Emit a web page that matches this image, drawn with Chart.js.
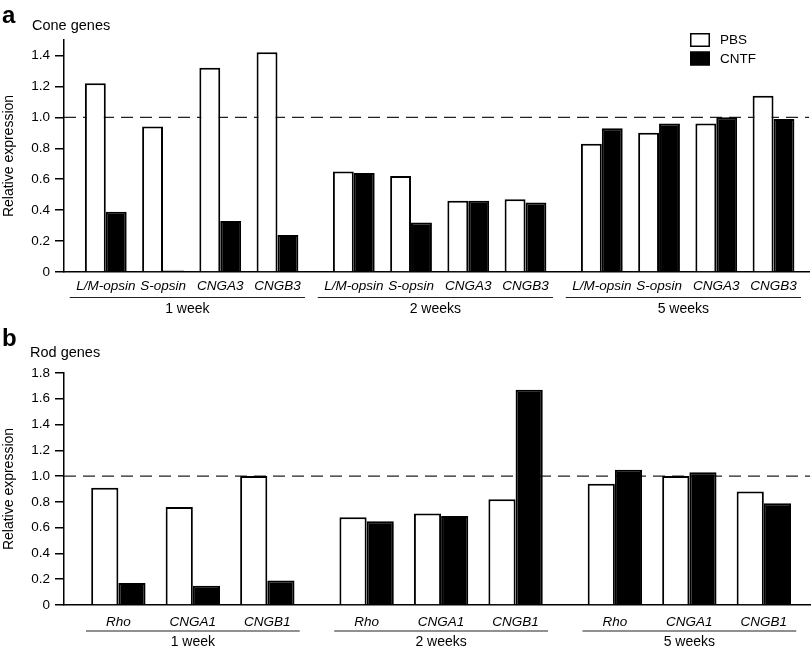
<!DOCTYPE html>
<html>
<head>
<meta charset="utf-8">
<script src="https://cdn.jsdelivr.net/npm/chart.js@4.4.1/dist/chart.umd.min.js"></script>
<style>
  body { margin: 0; background: #fff; font-family: "Liberation Sans", Arial, sans-serif; }
  #wrap { position: relative; width: 812px; height: 650px; }
  canvas { position: absolute; left: 0; }
  .letter { position: absolute; font-weight: bold; font-size: 24px; line-height: 24px; }
  .sub { position: absolute; font-size: 14.5px; line-height: 14px; }
</style>
</head>
<body>
<div id="wrap">
  <canvas id="coneChart" width="812" height="320" style="top:0"></canvas>
  <canvas id="rodChart" width="812" height="330" style="top:320px"></canvas>
  <div class="letter" style="left:2px;top:3px">a</div>
  <div class="sub" style="left:32px;top:18px">Cone genes</div>
  <div class="letter" style="left:2px;top:326px">b</div>
  <div class="sub" style="left:30px;top:345px">Rod genes</div>
</div>
<script>
const weeks = ["1 week", "2 weeks", "5 weeks"];
const seriesNames = ["PBS", "CNTF"];

// panel a - cone genes
const coneGenes = ["L/M-opsin", "S-opsin", "CNGA3", "CNGB3"];
const conePBS  = [1.22, 0.94, 1.32, 1.42,  0.65, 0.62, 0.46, 0.47,  0.83, 0.90, 0.96, 1.14];
const coneCNTF = [0.39, 0.01, 0.33, 0.24,  0.64, 0.32, 0.46, 0.45,  0.93, 0.96, 1.00, 0.99];
const coneTicks = [0, 0.2, 0.4, 0.6, 0.8, 1.0, 1.2, 1.4];

// panel b - rod genes
const rodGenes = ["Rho", "CNGA1", "CNGB1"];
const rodPBS  = [0.91, 0.76, 1.00,  0.68, 0.71, 0.82,  0.94, 1.00, 0.88];
const rodCNTF = [0.17, 0.15, 0.19,  0.65, 0.69, 1.67,  1.05, 1.03, 0.79];
const rodTicks = [0, 0.2, 0.4, 0.6, 0.8, 1.0, 1.2, 1.4, 1.6, 1.8];

const FONT = '"Liberation Sans", Arial, sans-serif';
Chart.defaults.font.family = FONT;
Chart.defaults.color = "#000";

const GROUP_GAP = 1 / 3;
const slot = (i, n) => i + Math.floor(i / n) * GROUP_GAP;

// dashed reference line at 1.0
const refLine = {
  id: "refLine",
  beforeDatasetsDraw(chart) {
    const { ctx, chartArea: a, scales: { y } } = chart;
    const py = y.getPixelForValue(1);
    ctx.save();
    ctx.strokeStyle = "#222";
    ctx.lineWidth = 1.3;
    ctx.setLineDash([12, 7]);
    ctx.beginPath();
    ctx.moveTo(a.left, py);
    ctx.lineTo(a.right, py);
    ctx.stroke();
    ctx.restore();
  }
};

// underlines and time point names below the gene labels
const groupLines = {
  id: "groupLines",
  afterDraw(chart, args, opts) {
    const { ctx, chartArea: a, scales: { x } } = chart;
    const n = opts.perGroup;
    const u = x.getPixelForValue(1) - x.getPixelForValue(0);
    ctx.save();
    ctx.strokeStyle = "#222";
    ctx.lineWidth = 1.2;
    ctx.fillStyle = "#000";
    ctx.font = "14px " + FONT;
    ctx.textAlign = "center";
    ctx.textBaseline = "middle";
    weeks.forEach((w, g) => {
      const x0 = x.getPixelForValue(slot(g * n, n)) - opts.ext[0] * u;
      const x1 = x.getPixelForValue(slot(g * n + n - 1, n)) + opts.ext[1] * u;
      const ly = a.bottom + opts.lineGap;
      ctx.beginPath();
      ctx.moveTo(x0, ly);
      ctx.lineTo(x1, ly);
      ctx.stroke();
      ctx.fillText(w, (x0 + x1) / 2, ly + 11.5);
    });
    ctx.restore();
  }
};

// small boxed legend inside panel a
const boxLegend = {
  id: "boxLegend",
  afterDraw(chart, args, opts) {
    if (!opts.show) return;
    const { ctx, chartArea: a } = chart;
    ctx.save();
    ctx.font = "13.5px " + FONT;
    ctx.textBaseline = "middle";
    chart.data.datasets.forEach((ds, i) => {
      const bx = a.right - 119, by = a.top - 7 + i * 18.5;
      ctx.fillStyle = ds.backgroundColor;
      ctx.fillRect(bx, by, 20, 14);
      ctx.strokeStyle = "#000";
      ctx.lineWidth = 1.5;
      ctx.strokeRect(bx + 0.75, by + 0.75, 18.5, 12.5);
      ctx.fillStyle = "#000";
      ctx.fillText(ds.label, bx + 30, by + 7.5);
    });
    ctx.restore();
  }
};

function makeChart(id, genes, pbs, cntf, yTicks, yMax, cfg) {
  const n = genes.length;
  const xs = pbs.map((v, i) => slot(i, n));
  const labels = pbs.map((v, i) => genes[i % n]);
  const last = xs[xs.length - 1];

  return new Chart(document.getElementById(id), {
    type: "bar",
    data: {
      datasets: [
        {
          label: seriesNames[0],
          data: pbs.map((v, i) => ({ x: xs[i], y: v })),
          backgroundColor: "#fff",
          borderColor: "#000",
          borderWidth: 2
        },
        {
          label: seriesNames[1],
          data: cntf.map((v, i) => ({ x: xs[i], y: v })),
          backgroundColor: "#000",
          borderColor: "#000",
          borderWidth: 2
        }
      ]
    },
    options: {
      responsive: false,
      animation: false,
      categoryPercentage: 0.73,
      barPercentage: 1.0,
      layout: { padding: cfg.padding },
      plugins: {
        legend: { display: false },
        tooltip: { enabled: false },
        groupLines: { perGroup: n, ext: cfg.ext, lineGap: cfg.lineGap },
        boxLegend: { show: cfg.legend }
      },
      scales: {
        x: {
          type: "linear",
          offset: false,
          min: -0.73,
          max: last + 0.62,
          afterBuildTicks: s => { s.ticks = xs.map(v => ({ value: v })); },
          afterFit: s => { s.height = cfg.xHeight; },
          grid: { display: false, drawTicks: false },
          border: { display: true, color: "#000", width: 1.5 },
          ticks: {
            autoSkip: false,
            maxRotation: 0,
            padding: cfg.labelPad,
            font: { size: 13.5, style: "italic" },
            callback: (v, i) => labels[i]
          }
        },
        y: {
          min: 0,
          max: yMax,
          afterBuildTicks: s => { s.ticks = yTicks.map(v => ({ value: v })); },
          afterFit: s => { s.width = 64; },
          grid: { drawOnChartArea: false, drawTicks: true, tickLength: 9, color: "#000", lineWidth: 1.5 },
          border: { display: true, color: "#000", width: 1.5 },
          ticks: {
            padding: 5,
            font: { size: 13.5 },
            callback: v => (v === 0 ? "0" : v.toFixed(1))
          },
          title: {
            display: true,
            text: "Relative expression",
            font: { size: 14 },
            padding: { top: 1, bottom: 0 }
          }
        }
      }
    },
    plugins: [refLine, groupLines, boxLegend]
  });
}

makeChart("coneChart", coneGenes, conePBS, coneCNTF, coneTicks, 1.5, {
  padding: { top: 40, right: 3, left: 0, bottom: 0 },
  xHeight: 48, labelPad: 6.5, lineGap: 25.5, ext: [0.63, 0.48], legend: true
});

makeChart("rodChart", rodGenes, rodPBS, rodCNTF, rodTicks, 1.8, {
  padding: { top: 53, right: 2, left: 0, bottom: 0 },
  xHeight: 45, labelPad: 9.5, lineGap: 26, ext: [0.435, 0.435], legend: false
});
</script>
</body>
</html>
